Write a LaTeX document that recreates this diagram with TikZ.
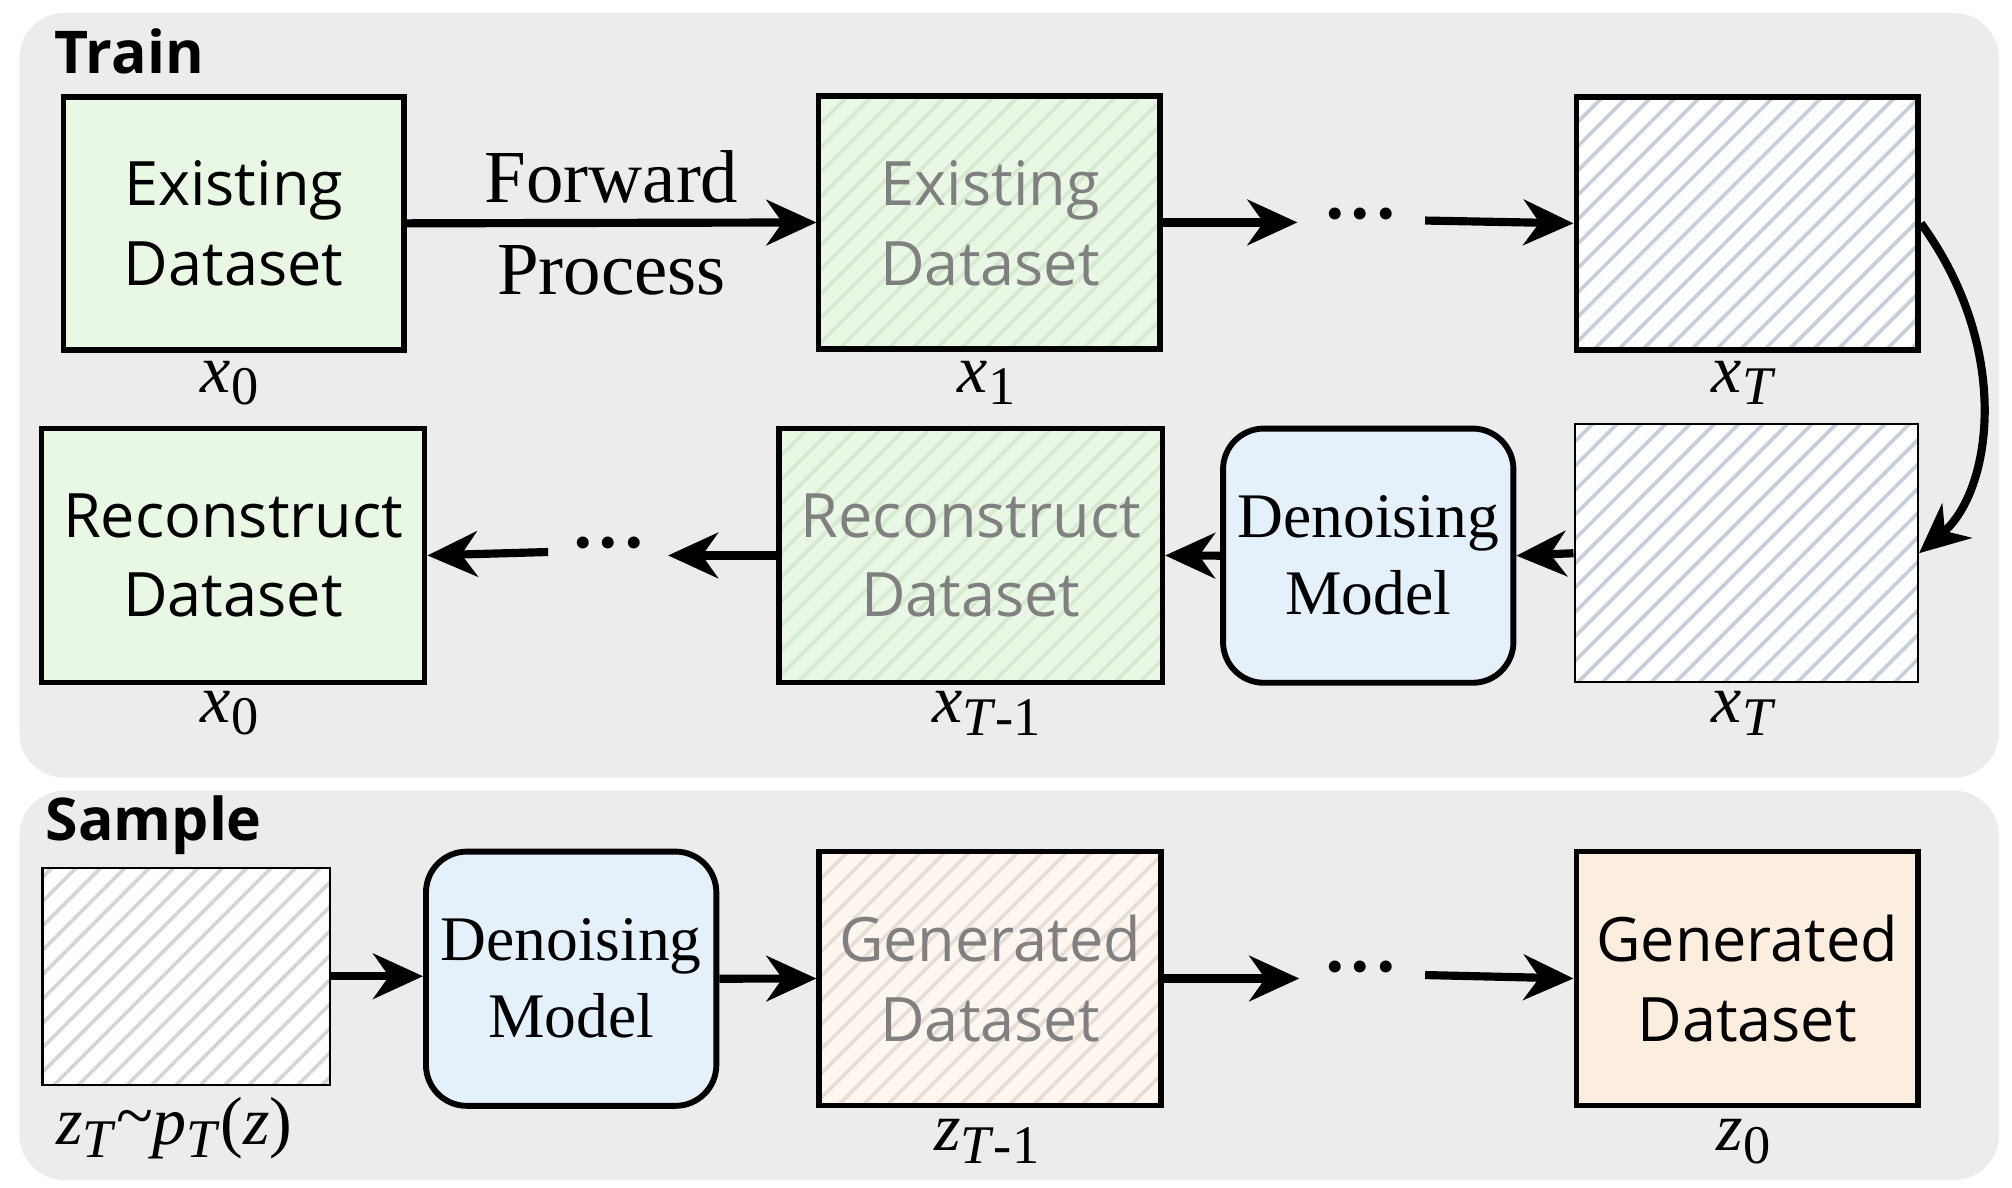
\documentclass[tikz,border=0pt]{standalone}
\usepackage{fontspec}
\setmainfont{Liberation Serif}
\newfontfamily\boxfont{Open Sans}
\usetikzlibrary{patterns.meta,arrows.meta}
\definecolor{panelgray}{RGB}{236,236,236}
\definecolor{dsgreen}{RGB}{233,248,228}
\definecolor{dsorange}{RGB}{252,238,223}
\definecolor{modelblue}{RGB}{228,240,250}
\definecolor{hatchblue}{RGB}{196,207,219}
\definecolor{hatchgreen}{RGB}{214,234,208}
\definecolor{hatchbeige}{RGB}{230,222,214}
\definecolor{hatchgray}{RGB}{210,213,217}
\newcommand\varsub[2]{\textit{#1}\raisebox{-.4ex}{\fontsize{12}{12}\selectfont #2}}
\newcommand\bigdots{{\fontsize{11}{11}\selectfont\textbullet\,\textbullet\,\textbullet}}
\tikzset{
  data/.style={draw, line width=1.2pt, anchor=north west, inner sep=0pt, align=center,
    font=\boxfont\fontsize{13.5}{17.5}\selectfont},
  noisy/.style={data, pattern={Lines[angle=45,distance=3.8pt,line width=0.8pt]}},
  plain noise/.style={noisy, preaction={fill=white}},
  model/.style={draw, line width=1.3pt, rounded corners=9pt, fill=modelblue, anchor=north west,
    inner sep=0pt, align=center, font=\rmfamily\fontsize{14}{17}\selectfont},
  lab/.style={font=\rmfamily\fontsize{15}{15}\selectfont},
  flow/.style={line width=1.8pt, -{Stealth[length=11pt,width=10pt,inset=3.5pt]}},
}
\begin{document}
\begin{tikzpicture}[x=0.01cm,y=-0.01cm]
\useasboundingbox (0,0) rectangle (1560,921);
% Panels
\fill[panelgray, rounded corners=10pt] (15,10) rectangle (1550,603);
\fill[panelgray, rounded corners=10pt] (15,613) rectangle (1550,915);
\node[anchor=west, font=\boxfont\bfseries\fontsize{13}{13}\selectfont] (train) at (30,40) {Train};
\node[anchor=west, font=\boxfont\bfseries\fontsize{13}{13}\selectfont] (sample) at (23,640) {Sample};

% Forward row
\node[data, fill=dsgreen, minimum width=2.64cm, minimum height=1.96cm] (x0a) at (47,73) {Existing\\Dataset};
\node[noisy, preaction={fill=dsgreen}, pattern color=hatchgreen, minimum width=2.65cm, minimum height=1.96cm] (x1) at (633,73) {};
\node[data, draw=none, minimum width=2.65cm, minimum height=1.96cm, text=gray] at (633,73) {Existing\\Dataset};
\node (dots1) at (1055,170) {\bigdots};
\node[plain noise, pattern color=hatchblue, minimum width=2.65cm, minimum height=1.96cm] (xT) at (1220,73) {};
\node[lab] at (178,297) {\varsub{x}{0}};
\node[lab] at (765,297) {\varsub{x}{1}};
\node[lab] at (1352,297) {\varsub{x}{\textit{T}}};

% Reverse row
\node[plain noise, pattern color=hatchblue, line width=0.5pt, minimum width=2.66cm, minimum height=2cm] (xTb) at (1220,328) {};
\node[model, minimum width=2.25cm, minimum height=1.97cm] (den1) at (946,330) {Denoising\\Model};
\node[noisy, preaction={fill=dsgreen}, pattern color=hatchgreen, minimum width=2.97cm, minimum height=1.97cm] (xTm1) at (602,330) {};
\node[data, draw=none, minimum width=2.97cm, minimum height=1.97cm, text=gray] at (602,330) {Reconstruct\\Dataset};
\node (dots2) at (472,425) {\bigdots};
\node[data, fill=dsgreen, minimum width=2.97cm, minimum height=1.97cm] (x0b) at (30,330) {Reconstruct\\Dataset};
\node[lab] at (1352,553) {\varsub{x}{\textit{T}}};
\node[lab] at (765,553) {\varsub{x}{\textit{T}-1}};
\node[lab] at (178,553) {\varsub{x}{0}};

% Sample row
\node[plain noise, pattern color=hatchgray, line width=0.5pt, minimum width=2.23cm, minimum height=1.68cm] (zT) at (32,672) {};
\node[model, minimum width=2.25cm, minimum height=1.97cm] (den2) at (328,658) {Denoising\\Model};
\node[noisy, preaction={fill=dsorange!50}, pattern color=hatchbeige, minimum width=2.65cm, minimum height=1.97cm] (zTm1) at (633,658) {};
\node[data, draw=none, minimum width=2.65cm, minimum height=1.97cm, text=gray] at (633,658) {Generated\\Dataset};
\node (dots3) at (1055,754) {\bigdots};
\node[data, fill=dsorange, minimum width=2.65cm, minimum height=1.97cm] (z0) at (1220,658) {Generated\\Dataset};
\node[lab] at (135,875) {\varsub{z}{\textit{T}}\raisebox{.2ex}{\textasciitilde}\varsub{p}{\textit{T}}(\textit{z})};
\node[lab] at (765,885) {\varsub{z}{\textit{T}-1}};
\node[lab] at (1352,885) {\varsub{z}{0}};

% Connectors
\draw[flow] (x0a.east) -- node[align=center, font=\rmfamily\fontsize{16.5}{19.5}\selectfont]{Forward\\[1pt]Process} (x1.west);
\draw[flow] (x1.east) -- ++(105,0);
\draw[flow] (1105,171) -- (xT.west);
\draw[flow] (xT.east) .. controls (1560,270) and (1545,380) .. (xTb.east);
\draw[flow] (xTb.west) -- (den1.east);
\draw[flow] (den1.west) -- (xTm1.east);
\draw[flow] (xTm1.west) -- ++(-84,0);
\draw[flow] (425,428) -- (x0b.east);
\draw[flow] (zT.east) -- (zT.east -| den2.west);
\draw[flow] (den2.east) -- (zTm1.west);
\draw[flow] (zTm1.east) -- ++(105,0);
\draw[flow] (1105,756) -- (z0.west);
\end{tikzpicture}
\end{document}
